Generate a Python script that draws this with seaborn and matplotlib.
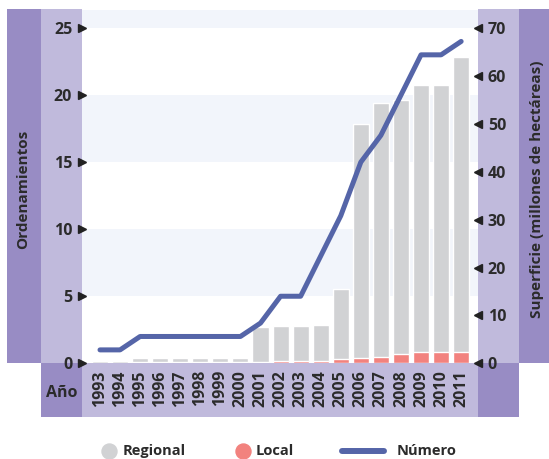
import matplotlib
matplotlib.use("Agg")
import matplotlib.pyplot as plt
import seaborn as sns
import numpy as np
import pandas as pd
from matplotlib.patches import Rectangle
from matplotlib.lines import Line2D

# Data
years = [str(y) for y in range(1993, 2012)]
regional = [0.5, 0.5, 0.8, 0.8, 0.8, 0.8, 0.8, 0.8, 7.2, 7.3, 7.3, 7.5,
            14.6, 48.8, 52.9, 53.0, 55.7, 55.7, 61.6]
local = [0.0, 0.0, 0.3, 0.3, 0.3, 0.3, 0.3, 0.3, 0.3, 0.5, 0.5, 0.5,
         0.9, 1.2, 1.4, 2.0, 2.4, 2.4, 2.4]
numero = [1, 1, 2, 2, 2, 2, 2, 2, 3, 5, 5, 8, 11, 15, 17, 20, 23, 23, 24]
left_ticks = [0, 5, 10, 15, 20, 25]
right_ticks = [0, 10, 20, 30, 40, 50, 60, 70]

# Colours
DARK = "#988cc4"
LIGHT = "#c0badc"
BAND = "#f2f5fb"
GREY = "#d1d2d4"
SALMON = "#f2827e"
BLUE = "#5565a8"
TXT = "#2b2b2b"

sns.set_theme(style="white")
plt.rcParams["font.family"] = ["Open Sans", "DejaVu Sans"]

W, H = 549, 459
fig = plt.figure(figsize=(W / 100, H / 100), dpi=100)


def px_box(x0, y0, x1, y1, color):
    fig.add_artist(Rectangle((x0 / W, 1 - y1 / H), (x1 - x0) / W, (y1 - y0) / H,
                             transform=fig.transFigure, facecolor=color,
                             edgecolor="none", zorder=-1))


# Frame panels around the plot
px_box(7, 9, 41, 363.3, DARK)
px_box(41, 9, 82, 363.3, LIGHT)
px_box(41, 363.3, 82, 417, DARK)
px_box(82, 363.3, 478, 417, LIGHT)
px_box(478, 9, 519, 363.3, LIGHT)
px_box(519, 9, 549, 363.3, DARK)
px_box(478, 363.3, 519, 417, DARK)

df = pd.DataFrame({"Año": years, "Regional": regional, "Local": local,
                   "Número": numero})
df["Total"] = df["Regional"] + df["Local"]

ax = fig.add_axes([82 / W, 1 - 363.3 / H, 396 / W, (363.3 - 9.5) / H])
ax2 = ax.twinx()
ax.set_zorder(2)
ax2.set_zorder(1)
ax.patch.set_visible(False)

ytop = 26.38
ratio = 2.8

# Alternating background bands
for lo, hi in [(5, 10), (15, 20), (25, ytop + 1)]:
    ax2.axhspan(lo * ratio, hi * ratio, color=BAND, lw=0, zorder=0.5)

# Stacked surface bars (Local at the base, Regional above)
sns.barplot(data=df, x="Año", y="Total", color=GREY, saturation=1, width=0.8,
            errorbar=None, ax=ax2, zorder=2)
sns.barplot(data=df, x="Año", y="Local", color=SALMON, saturation=1, width=0.8,
            errorbar=None, ax=ax2, zorder=3)

# Number of plans
sns.lineplot(x=np.arange(len(years)), y=df["Número"], ax=ax, color=BLUE,
             lw=3.6, solid_capstyle="round", legend=False)

ax.set_xlim(-0.897, 18.84)
ax.set_ylim(0, ytop)
ax2.set_ylim(0, ytop * ratio)

for a in (ax, ax2):
    for s in a.spines.values():
        s.set_visible(False)
    a.grid(False)
    a.set_xlabel("")
    a.set_ylabel("")

ax.set_xticks(range(len(years)))
ax.set_xticklabels(years, rotation=90, fontsize=11.5, fontweight="bold",
                   color=TXT)
ax.tick_params(axis="x", length=0, pad=5)

ax.set_yticks(left_ticks)
ax.set_yticklabels([str(t) for t in left_ticks], fontsize=11.5,
                   fontweight="bold", color=TXT)
ax.tick_params(axis="y", length=0, pad=7)
ax2.set_yticks(right_ticks)
ax2.set_yticklabels([str(t) for t in right_ticks], fontsize=11.5,
                    fontweight="bold", color=TXT)
ax2.tick_params(axis="y", length=0, pad=7)

# Triangular tick markers
ax.plot(np.zeros(len(left_ticks)), left_ticks, transform=ax.get_yaxis_transform(),
        marker=">", ms=6, color="#222222", ls="none", clip_on=False, zorder=5)
ax2.plot(np.ones(len(right_ticks)), right_ticks, transform=ax2.get_yaxis_transform(),
         marker="<", ms=6, color="#222222", ls="none", clip_on=False, zorder=5)

# Axis titles
fig.text(23 / W, 1 - 189 / H, "Ordenamientos", rotation=90, ha="center",
         va="center", fontsize=11, fontweight="bold", color=TXT)
fig.text(537 / W, 1 - 189 / H, "Superficie (millones de hectáreas)", rotation=90,
         ha="center", va="center", fontsize=11, fontweight="bold", color=TXT)
fig.text(62 / W, 1 - 393 / H, "Año", ha="center", va="center", fontsize=11.5,
         fontweight="bold", color=TXT)

# Legend
ly = 1 - 451 / H
fig.add_artist(Line2D([109 / W], [ly], marker="o", ms=10.8, color=GREY,
                      ls="none", transform=fig.transFigure))
fig.text(123 / W, ly, "Regional", ha="left", va="center", fontsize=10.5,
         fontweight="bold", color=TXT)
fig.add_artist(Line2D([243 / W], [ly], marker="o", ms=10.8, color=SALMON,
                      ls="none", transform=fig.transFigure))
fig.text(256 / W, ly, "Local", ha="left", va="center", fontsize=10.5,
         fontweight="bold", color=TXT)
fig.add_artist(Line2D([342 / W, 384 / W], [ly, ly], lw=4.3, color=BLUE,
                      solid_capstyle="round", transform=fig.transFigure))
fig.text(397 / W, ly, "Número", ha="left", va="center", fontsize=10.5,
         fontweight="bold", color=TXT)

fig.savefig("out.png", dpi=100)
